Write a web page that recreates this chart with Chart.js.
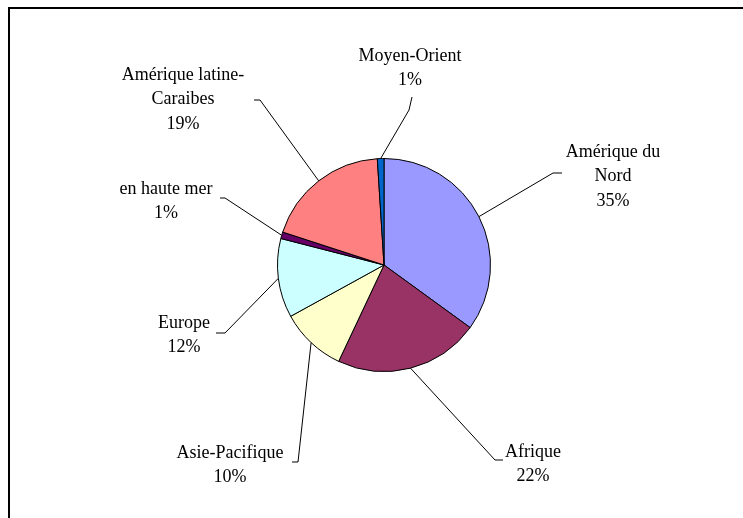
<!DOCTYPE html>
<html>
<head>
<meta charset="utf-8">
<script src="https://cdn.jsdelivr.net/npm/chart.js@4/dist/chart.umd.min.js"></script>
<style>
  html, body { margin: 0; padding: 0; background: #ffffff; }
  #wrap { position: relative; width: 743px; height: 518px; }
</style>
</head>
<body>
<div id="wrap"><canvas id="c" width="743" height="518"></canvas></div>
<script>
// ---- data ----
const categories = ['Amérique du Nord', 'Afrique', 'Asie-Pacifique', 'Europe', 'en haute mer', 'Amérique latine-Caraibes', 'Moyen-Orient'];
const values = [35, 22, 10, 12, 1, 19, 1];
const labelLines = [
  ['Amérique du', 'Nord'],
  ['Afrique'],
  ['Asie-Pacifique'],
  ['Europe'],
  ['en haute mer'],
  ['Amérique latine-', 'Caraibes'],
  ['Moyen-Orient']
];
const sliceColors = ['#9999FF', '#993366', '#FFFFCC', '#CCFFFF', '#660066', '#FF8080', '#0066CC'];

// ---- label layout (positions of text and leader elbows) ----
const labelLayout = [
  { x: 613, y: 152, elbow: [[553, 173], [562, 173]] },
  { x: 533, y: 452, elbow: [[495, 460], [503, 460]] },
  { x: 230, y: 453, elbow: [[298, 462], [292, 462]] },
  { x: 184, y: 323, elbow: [[225, 333], [216, 333]] },
  { x: 166, y: 189, elbow: [[225, 198], [220, 198]] },
  { x: 183, y: 75,  elbow: [[260, 100], [254, 100]] },
  { x: 410, y: 56,  elbow: [[409, 110], [412, 97]] }
];
const FONT = '18px "Liberation Serif", "Times New Roman", serif';
const LINE_H = 24.5;

const framePlugin = {
  id: 'frame',
  beforeDraw(chart) {
    const ctx = chart.ctx;
    ctx.save();
    ctx.fillStyle = '#ffffff';
    ctx.fillRect(0, 0, chart.width, chart.height);
    ctx.strokeStyle = '#000000';
    ctx.lineWidth = 2;
    ctx.beginPath();
    ctx.moveTo(9, chart.height + 5);
    ctx.lineTo(9, 8);
    ctx.lineTo(chart.width + 5, 8);
    ctx.stroke();
    ctx.restore();
  }
};

const labelPlugin = {
  id: 'pieLabels',
  afterDatasetsDraw(chart) {
    const ctx = chart.ctx;
    const meta = chart.getDatasetMeta(0);
    const total = values.reduce((a, b) => a + b, 0);
    ctx.save();
    meta.data.forEach((arc, i) => {
      const p = arc.getProps(['x', 'y', 'startAngle', 'endAngle', 'outerRadius'], true);
      const mid = (p.startAngle + p.endAngle) / 2;
      const ex = p.x + Math.cos(mid) * p.outerRadius;
      const ey = p.y + Math.sin(mid) * p.outerRadius;
      const L = labelLayout[i];
      ctx.strokeStyle = '#000000';
      ctx.lineWidth = 1;
      ctx.beginPath();
      ctx.moveTo(ex, ey);
      L.elbow.forEach(pt => ctx.lineTo(pt[0], pt[1]));
      ctx.stroke();
      const lines = labelLines[i].concat([Math.round(values[i] / total * 100) + '%']);
      ctx.fillStyle = '#000000';
      ctx.font = FONT;
      ctx.textAlign = 'center';
      ctx.textBaseline = 'middle';
      lines.forEach((t, k) => ctx.fillText(t, L.x, L.y + k * LINE_H));
    });
    ctx.restore();
  }
};

new Chart(document.getElementById('c'), {
  type: 'pie',
  data: {
    labels: categories,
    datasets: [{
      data: values,
      backgroundColor: sliceColors,
      borderColor: '#000000',
      borderWidth: 1
    }]
  },
  options: {
    responsive: false,
    animation: false,
    layout: { padding: { left: 277, right: 252, top: 158, bottom: 146 } },
    plugins: {
      legend: { display: false },
      tooltip: { enabled: false }
    }
  },
  plugins: [framePlugin, labelPlugin]
});
</script>
</body>
</html>
